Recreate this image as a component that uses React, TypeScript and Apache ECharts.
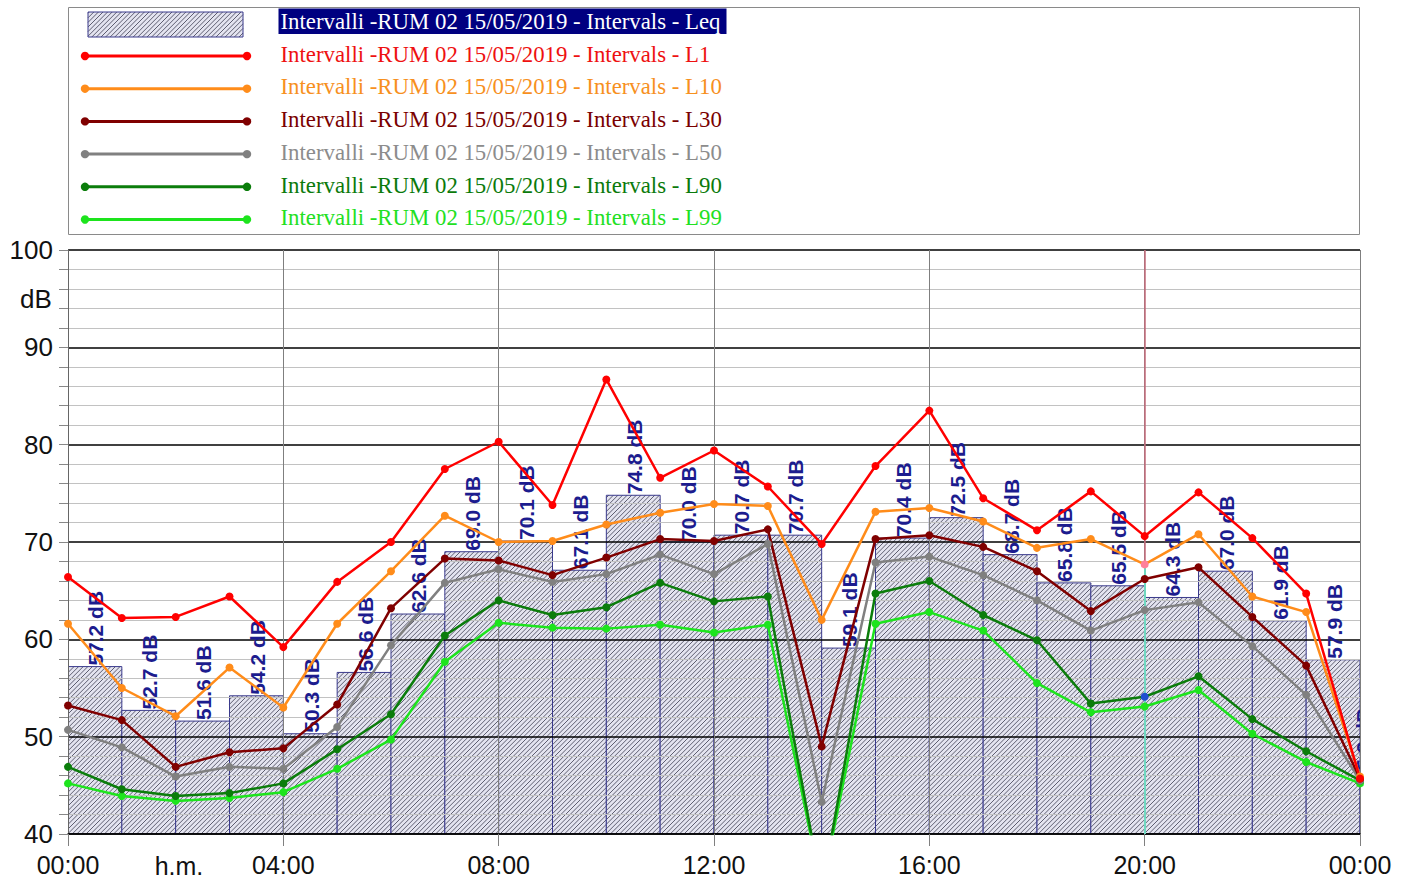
import React, { useEffect, useRef } from "react";
import * as echarts from "echarts";

// ---- data ----
const hours = [0, 1, 2, 3, 4, 5, 6, 7, 8, 9, 10, 11, 12, 13, 14, 15, 16, 17, 18, 19, 20, 21, 22, 23, 24];
const intervalStart = [0, 1, 2, 3, 4, 5, 6, 7, 8, 9, 10, 11, 12, 13, 14, 15, 16, 17, 18, 19, 20, 21, 22, 23, 24];
const intervalLength = [1, 1, 1, 1, 1, 1, 1, 1, 1, 1, 1, 1, 1, 1, 1, 1, 1, 1, 1, 1, 1, 1, 1, 1, 0.1];
const leq = [57.2, 52.7, 51.6, 54.2, 50.3, 56.6, 62.6, 69.0, 70.1, 67.1, 74.8, 70.0, 70.7, 70.7, 59.1, 70.4, 72.5, 68.7, 65.8, 65.5, 64.3, 67.0, 61.9, 57.9, 45.2];
const l1 = [66.4, 62.2, 62.3, 64.4, 59.2, 65.9, 70.0, 77.5, 80.3, 73.8, 86.7, 76.6, 79.4, 75.7, 69.8, 77.8, 83.5, 74.5, 71.2, 75.2, 70.6, 75.1, 70.4, 64.7, 45.7];
const l10 = [61.6, 55.0, 52.1, 57.1, 53.0, 61.6, 67.0, 72.7, 70.0, 70.1, 71.8, 73.0, 73.9, 73.7, 62.0, 73.1, 73.5, 72.1, 69.4, 70.3, 67.7, 70.8, 64.4, 62.8, 45.9];
const l30 = [53.2, 51.7, 46.9, 48.4, 48.8, 53.3, 63.2, 68.3, 68.1, 66.6, 68.4, 70.3, 70.1, 71.3, 49.0, 70.3, 70.7, 69.5, 67.0, 62.9, 66.2, 67.4, 62.3, 57.3, 45.7];
const l50 = [50.7, 48.9, 45.9, 46.9, 46.7, 51.0, 59.4, 65.8, 67.2, 65.9, 66.7, 68.7, 66.7, 69.8, 43.3, 67.9, 68.5, 66.6, 64.0, 60.9, 63.0, 63.8, 59.3, 54.3, 45.5];
const l90 = [46.9, 44.6, 43.9, 44.2, 45.2, 48.7, 52.3, 60.4, 64.0, 62.5, 63.3, 65.8, 63.9, 64.4, 34.2, 64.7, 66.0, 62.5, 59.9, 53.4, 54.1, 56.2, 51.8, 48.5, 45.5];
const l99 = [45.2, 43.9, 43.4, 43.7, 44.3, 46.7, 49.7, 57.7, 61.7, 61.2, 61.1, 61.5, 60.7, 61.5, 34.3, 61.6, 62.8, 60.9, 55.5, 52.5, 53.1, 54.8, 50.3, 47.4, 45.2];
const cursorHour = 20;
const seriesNames = [
  "Intervalli -RUM 02 15/05/2019 - Intervals - Leq",
  "Intervalli -RUM 02 15/05/2019 - Intervals - L1",
  "Intervalli -RUM 02 15/05/2019 - Intervals - L10",
  "Intervalli -RUM 02 15/05/2019 - Intervals - L30",
  "Intervalli -RUM 02 15/05/2019 - Intervals - L50",
  "Intervalli -RUM 02 15/05/2019 - Intervals - L90",
  "Intervalli -RUM 02 15/05/2019 - Intervals - L99",
];
const lineColors = ["#ff0000", "#ff8c1a", "#800000", "#808080", "#0b7d0b", "#1de41d"];
const textColors = ["#ee1111", "#f7901e", "#7a0000", "#8c8c8c", "#0b7a0b", "#22e022"];
// cursor-highlighted markers at 20:00 (L10 and L90)
const cursorMarkerColors = [null, "#ff7f9a", null, null, "#1f4fd0", null];

const SANS = '"Liberation Sans", Arial, sans-serif';
const SERIF = '"Liberation Serif", "Times New Roman", serif';
const HATCH_BG = "#e4e4f0";
const HATCH_LINE = "#5e5e70";
const HATCH_STEP = 4.6;

function hatchLines(x0: number, y0: number, x1: number, y1: number, step: number, stroke: string) {
  const out: any[] = [];
  const cStart = Math.ceil((x0 + y0) / step) * step;
  for (let c = cStart; c <= x1 + y1; c += step) {
    const xa = Math.max(x0, c - y1);
    const xb = Math.min(x1, c - y0);
    if (xb <= xa) continue;
    out.push({
      type: "line",
      silent: true,
      shape: { x1: xa, y1: c - xa, x2: xb, y2: c - xb },
      style: { stroke, lineWidth: 1 },
    });
  }
  return out;
}

export default function App() {
  const ref = useRef<HTMLDivElement>(null);
  useEffect(() => {
    const chart = echarts.init(ref.current!, null, { renderer: "svg" });
    const barData = leq.map((v, i) => [intervalStart[i], v, intervalLength[i]]);
    const lineSets = [l1, l10, l30, l50, l90, l99];

    const lineSeries: any[] = lineSets
      .map((vals, k) => ({
        type: "line",
        name: seriesNames[k + 1],
        data: vals.map((v, i) =>
          hours[i] === cursorHour && cursorMarkerColors[k]
            ? { value: [hours[i], v], itemStyle: { color: cursorMarkerColors[k] } }
            : [hours[i], v]
        ),
        symbol: "circle",
        symbolSize: 8,
        showSymbol: true,
        clip: true,
        silent: true,
        z: 5,
        lineStyle: { color: lineColors[k], width: 2.5 },
        itemStyle: { color: lineColors[k] },
        emphasis: { disabled: true },
      }))
      .reverse();

    // cursor line at 20:00 on the first-drawn line series
    lineSeries[0].markLine = {
      silent: true,
      symbol: "none",
      animation: false,
      label: { show: false },
      data: [
        [
          { coord: [cursorHour, 100], lineStyle: { color: "#c46a7a", width: 1.5, type: "solid" } },
          { coord: [cursorHour, l10[cursorHour]] },
        ],
        [
          { coord: [cursorHour, l10[cursorHour]], lineStyle: { color: "#6fd8c0", width: 2, type: "solid" } },
          { coord: [cursorHour, 40] },
        ],
      ],
    };

    // legend drawn as graphic
    const graphic: any[] = [];
    graphic.push({
      type: "rect",
      silent: true,
      shape: { x: 68.5, y: 7.5, width: 1291, height: 227 },
      style: { fill: "#ffffff", stroke: "#8a8a8a", lineWidth: 1 },
    });
    const rowY = (i: number) => 21.5 + 32.7 * i;
    graphic.push({
      type: "rect",
      silent: true,
      shape: { x: 88, y: 12, width: 155, height: 25 },
      style: { fill: HATCH_BG },
    });
    hatchLines(88, 12, 243, 37, HATCH_STEP, HATCH_LINE).forEach((l) => graphic.push(l));
    graphic.push({
      type: "rect",
      silent: true,
      shape: { x: 88, y: 12, width: 155, height: 25 },
      style: { fill: "none", stroke: "#3a3a8c", lineWidth: 1 },
    });
    graphic.push({
      type: "rect",
      silent: true,
      shape: { x: 278.5, y: 8.5, width: 448, height: 25.5 },
      style: { fill: "#000080" },
    });
    const legendFont = `22.8px ${SERIF}`;
    graphic.push({
      type: "text",
      silent: true,
      x: 280.5,
      y: rowY(0),
      style: {
        text: seriesNames[0],
        fill: "#ffffff",
        font: legendFont,
        align: "left",
        verticalAlign: "middle",
        textAlign: "left",
        textVerticalAlign: "middle",
      },
    });
    for (let k = 0; k < 6; k++) {
      const ty = rowY(k + 1);
      const ly = ty + 1.8;
      graphic.push({
        type: "line",
        silent: true,
        shape: { x1: 85, y1: ly, x2: 247, y2: ly },
        style: { stroke: lineColors[k], lineWidth: 3 },
      });
      [85, 247].forEach((cx) =>
        graphic.push({
          type: "circle",
          silent: true,
          shape: { cx, cy: ly, r: 4.2 },
          style: { fill: lineColors[k] },
        })
      );
      graphic.push({
        type: "text",
        silent: true,
        x: 280.5,
        y: ty,
        style: {
          text: seriesNames[k + 1],
          fill: textColors[k],
          font: legendFont,
          align: "left",
          verticalAlign: "middle",
          textAlign: "left",
          textVerticalAlign: "middle",
        },
      });
    }
    // axis unit names
    graphic.push({
      type: "text",
      silent: true,
      x: 36,
      y: 299,
      style: {
        text: "dB",
        fill: "#111111",
        font: `26px ${SANS}`,
        align: "center",
        verticalAlign: "middle",
        textAlign: "center",
        textVerticalAlign: "middle",
      },
    });
    graphic.push({
      type: "text",
      silent: true,
      x: 179,
      y: 866,
      style: {
        text: "h.m.",
        fill: "#111111",
        font: `25px ${SANS}`,
        align: "center",
        verticalAlign: "middle",
        textAlign: "center",
        textVerticalAlign: "middle",
      },
    });

    const option: any = {
      animation: false,
      backgroundColor: "#ffffff",
      grid: { left: 68, top: 250, right: 49, bottom: 47, containLabel: false },
      xAxis: {
        type: "value",
        min: 0,
        max: 24,
        interval: 4,
        z: 3,
        axisLine: { show: true, lineStyle: { color: "#000000", width: 1.5 } },
        axisTick: { show: true, length: 12, lineStyle: { color: "#808080", width: 1 } },
        axisLabel: {
          fontSize: 25,
          fontFamily: SANS,
          color: "#111111",
          margin: 18,
          formatter: (v: number) => String(v % 24).padStart(2, "0") + ":00",
        },
        splitLine: { show: true, lineStyle: { color: "#7f7f7f", width: 1 } },
      },
      yAxis: {
        type: "value",
        min: 40,
        max: 100,
        interval: 10,
        z: 3,
        axisLine: { show: true, lineStyle: { color: "#666666", width: 1 } },
        axisTick: { show: true, length: 9, lineStyle: { color: "#888888" } },
        minorTick: { show: true, splitNumber: 5, length: 9, lineStyle: { color: "#888888" } },
        axisLabel: { fontSize: 26, fontFamily: SANS, color: "#111111", margin: 15 },
        splitLine: { show: true, lineStyle: { color: "#000000", width: 1.6 } },
        minorSplitLine: { show: true, lineStyle: { color: "#c2c2c2", width: 1.2 } },
      },
      graphic,
      series: [
        {
          type: "custom",
          name: seriesNames[0],
          z: 1,
          clip: true,
          silent: true,
          data: barData,
          renderItem: (params: any, api: any) => {
            const x = api.value(0);
            const v = api.value(1);
            const d = api.value(2);
            const p0 = api.coord([x, v]);
            const p1 = api.coord([x + d, 40]);
            const x0 = p0[0], y0 = p0[1], x1 = p1[0], y1 = p1[1];
            const children: any[] = [
              { type: "rect", shape: { x: x0, y: y0, width: x1 - x0, height: y1 - y0 }, style: { fill: HATCH_BG } },
              ...hatchLines(x0, y0, x1, y1, HATCH_STEP, HATCH_LINE),
              {
                type: "rect",
                shape: { x: x0, y: y0, width: x1 - x0, height: y1 - y0 },
                style: { fill: "none", stroke: "#3a3a8c", lineWidth: 1 },
              },
            ];
            return { type: "group", children };
          },
        },
        {
          type: "custom",
          name: "Leq labels",
          z: 4,
          clip: true,
          silent: true,
          data: barData,
          renderItem: (params: any, api: any) => {
            const x = api.value(0);
            const v = api.value(1);
            const d = api.value(2);
            const p = api.coord([x + d / 2, v]);
            return {
              type: "text",
              x: p[0] + 1,
              y: p[1] - 1,
              rotation: Math.PI / 2,
              style: {
                text: v.toFixed(1) + " dB",
                fill: "#1c1c8e",
                font: `bold 21px ${SANS}`,
                align: "left",
                verticalAlign: "middle",
                textAlign: "left",
                textVerticalAlign: "middle",
              },
            };
          },
        },
        ...lineSeries,
      ],
    };
    chart.setOption(option);
    return () => chart.dispose();
  }, []);
  return (
    <div
      ref={ref}
      style={{ position: "fixed", left: 0, top: 0, width: 1409, height: 881, background: "#fff" }}
    />
  );
}
